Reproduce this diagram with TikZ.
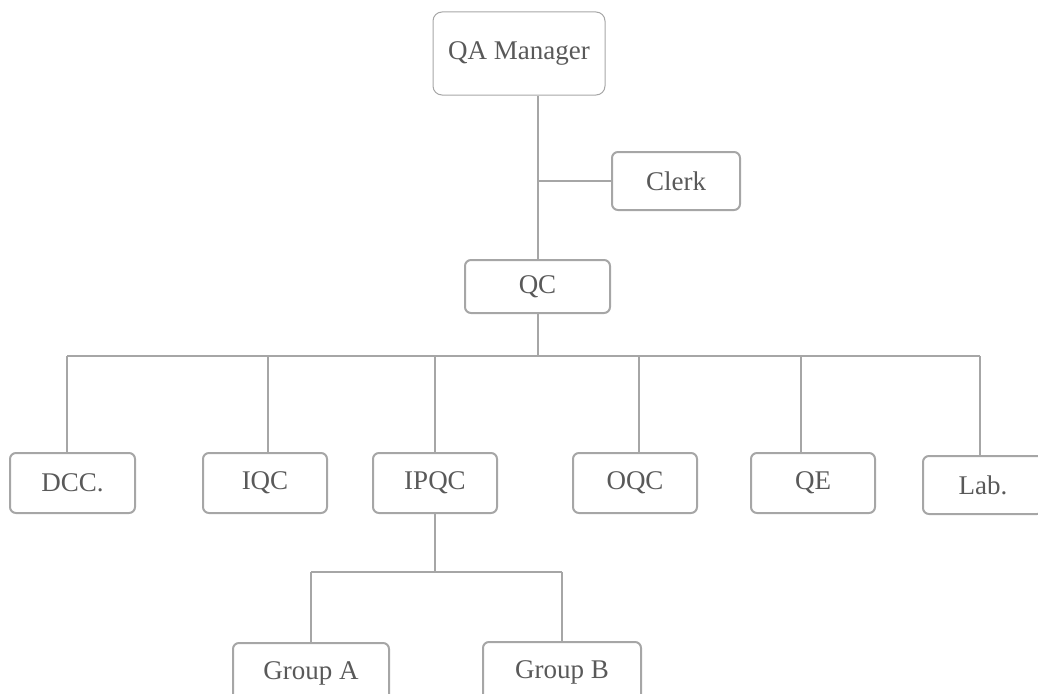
\documentclass[tikz,border=0pt]{standalone}
\usepackage{fontspec}
\setmainfont{Liberation Serif}
\definecolor{linegray}{HTML}{A6A6A6}
\definecolor{textgray}{HTML}{595959}
\tikzset{
  unit/.style={draw=linegray, line width=2pt, rounded corners=6pt, text=textgray,
    font=\fontsize{27}{32}\selectfont, inner sep=0pt, minimum height=60pt, minimum width=124pt},
  link/.style={draw=linegray, line width=2pt},
}

\begin{document}
\begin{tikzpicture}[x=1pt,y=-1pt]
\useasboundingbox (0,0) rectangle (1038,693);

\node[unit, line width=1pt, rounded corners=9pt, minimum width=172pt, minimum height=83pt] (qam) at (519,53.5) {QA Manager};
\node[unit, minimum width=128pt, minimum height=58pt] (clerk) at (676,181) {Clerk};
\node[unit, minimum width=145pt, minimum height=53pt] (qc) at (537.5,286.5) {QC};

\node[unit, minimum width=125pt] (dcc) at (72.5,483) {DCC.};
\node[unit] (iqc) at (265,483) {IQC};
\node[unit] (ipqc) at (435,483) {IPQC};
\node[unit] (oqc) at (635,483) {OQC};
\node[unit] (qe) at (813,483) {QE};
\node[unit, minimum width=120pt, minimum height=58pt] (lab) at (983,485) {Lab.};

\node[unit, minimum width=156pt] (grpa) at (311,673) {Group A};
\node[unit, minimum width=158pt] (grpb) at (562,672) {Group B};

\coordinate (bus) at (537.5,356);
\coordinate (sub) at (435,572);

\draw[link] (qc.north) -- (qc.north |- qam.south);
\draw[link] (qc.north |- clerk.west) -- (clerk.west);
\draw[link] (qc.south) -- (bus);
\draw[link] ([xshift=-5.5pt]dcc.north |- bus) -- ([xshift=-3pt]lab.north |- bus);
\foreach \n/\dx in {dcc/-5.5,iqc/3,ipqc/0,oqc/4,qe/-12,lab/-3}
  \draw[link] ([xshift=\dx pt]\n.north) -- ([xshift=\dx pt]\n.north |- bus);

\draw[link] (ipqc.south) -- (sub);
\draw[link] (grpa.north |- sub) -- (grpb.north |- sub);
\draw[link] (grpa.north) -- (grpa.north |- sub);
\draw[link] (grpb.north) -- (grpb.north |- sub);
\end{tikzpicture}
\end{document}
